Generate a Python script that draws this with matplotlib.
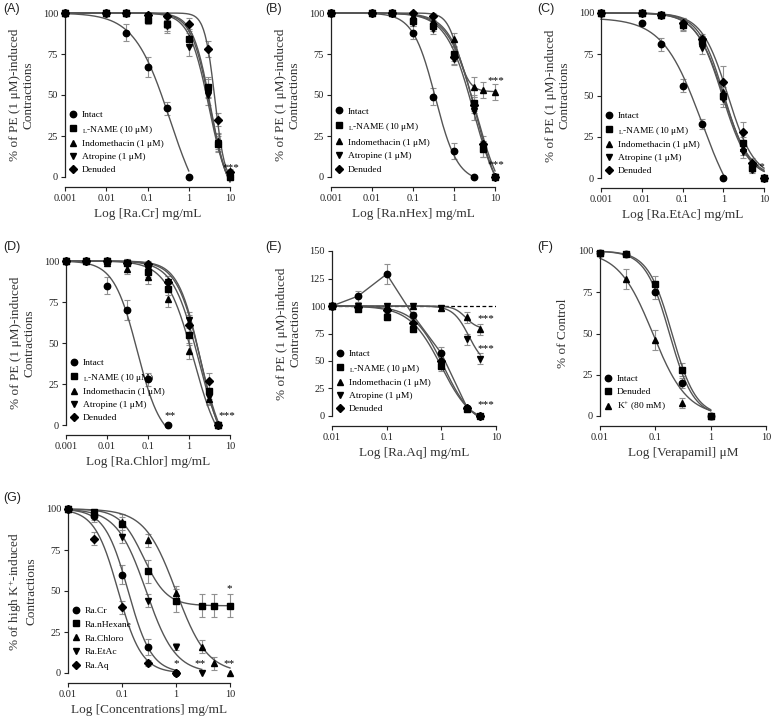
import numpy as np
import matplotlib
matplotlib.use('Agg')
import matplotlib.pyplot as plt
from matplotlib.ticker import FixedLocator, NullLocator

plt.rcParams['font.family'] = ['Liberation Serif', 'DejaVu Serif']
plt.rcParams['mathtext.fontset'] = 'custom'
plt.rcParams['mathtext.rm'] = 'Liberation Serif'
plt.rcParams['mathtext.it'] = 'Liberation Serif:italic'
plt.rcParams['mathtext.bf'] = 'Liberation Serif:bold'

# ---------------- data ----------------
# fit params are [top, bottom, IC50, hill] of the drawn curves, None = straight line
pe_labels = ['Intact', r'$_{\mathrm{L}}$-NAME (10 μM)', 'Indomethacin (1 μM)',
             'Atropine (1 μM)', 'Denuded']
pe_markers = ['o', 's', '^', 'v', 'D']

# (A) Ra.Cr
a_x = [0.001, 0.01, 0.03, 0.1, 0.3, 1, 3, 5, 10]
a_intact_x = [0.001, 0.01, 0.03, 0.1, 0.3, 1]
a_intact = [100, 100, 88, 67, 42, 0]
a_intact_err = [0, 0, 5, 6, 4, 0]
a_lname = [100, 100, 100, 96, 93, 84, 55, 20, 0]
a_lname_err = [0, 0, 0, 3, 4, 4, 6, 5, 2]
a_indo = [100, 100, 100, 98, 94, 85, 54, 22, 2]
a_indo_err = [0, 0, 0, 2, 3, 5, 6, 5, 2]
a_atro = [100, 100, 100, 98, 92, 79, 50, 21, 1]
a_atro_err = [0, 0, 0, 2, 4, 5, 6, 5, 2]
a_den = [100, 100, 100, 99, 98, 93, 78, 35, 3]
a_den_err = [0, 0, 0, 1, 2, 4, 5, 4, 2]
a_fits = [[100, -30, 0.35, 1.0], [100, -15, 3.4, 2.0], [100, -15, 3.3, 1.9],
          [100, -15, 3.1, 1.8], [100, -5, 4.3, 3.5]]

# (B) Ra.nHex
b_x = [0.001, 0.01, 0.03, 0.1, 0.3, 1, 3, 5, 10]
b_intact_x = [0.001, 0.01, 0.03, 0.1, 0.3, 1, 3]
b_intact = [100, 100, 100, 88, 49, 16, 0]
b_intact_err = [0, 0, 0, 4, 5, 5, 0]
b_lname = [100, 100, 100, 95, 92, 75, 45, 17, 0]
b_lname_err = [0, 0, 0, 2, 3, 4, 5, 5, 0]
b_indo = [100, 100, 100, 98, 95, 84, 55, 53, 52]
b_indo_err = [0, 0, 0, 2, 3, 4, 6, 5, 5]
b_atro = [100, 100, 100, 94, 90, 72, 40, 17, 0]
b_atro_err = [0, 0, 0, 2, 3, 4, 5, 5, 0]
b_den = [100, 100, 100, 100, 98, 73, 44, 20, 0]
b_den_err = [0, 0, 0, 1, 2, 4, 5, 5, 0]
b_fits = [[100, -3, 0.35, 1.6], [100, -20, 3.4, 1.3], [100, 52, 1.25, 3.0],
          [100, -20, 3.0, 1.3], [100, -20, 3.3, 1.4]]

# (C) Ra.EtAc
c_x = [0.001, 0.01, 0.03, 0.1, 0.3, 1, 3, 5, 10]
c_intact_x = [0.01, 0.03, 0.1, 0.3, 1]
c_intact = [94, 81, 56, 33, 0]
c_intact_err = [0, 4, 4, 3, 0]
c_lname = [100, 100, 99, 93, 83, 50, 21, 6, 0]
c_lname_err = [0, 0, 0, 3, 3, 5, 4, 2, 0]
c_indo = [100, 100, 99, 94, 83, 52, 18, 6, 0]
c_indo_err = [0, 0, 0, 3, 3, 5, 4, 2, 0]
c_atro = [100, 100, 99, 92, 79, 48, 16, 5, 0]
c_atro_err = [0, 0, 0, 3, 4, 5, 4, 2, 0]
c_den = [100, 100, 99, 94, 84, 58, 28, 9, 0]
c_den_err = [0, 0, 0, 3, 3, 10, 6, 3, 0]
c_fits = [[97, -30, 0.3, 0.9], [100, 0, 1.0, 1.3], [100, 0, 1.05, 1.4],
          [100, 0, 0.95, 1.35], [100, 0, 1.3, 1.35]]

# (D) Ra.Chlor
d_x = [0.001, 0.003, 0.01, 0.03, 0.1, 0.3, 1, 3, 5]
d_intact_x = [0.001, 0.003, 0.01, 0.03, 0.1, 0.3]
d_intact = [100, 100, 85, 70, 28, 0]
d_intact_err = [0, 0, 5, 6, 4, 0]
d_lname = [100, 100, 100, 99, 93, 83, 55, 21, 0]
d_lname_err = [0, 0, 0, 2, 3, 4, 6, 5, 0]
d_indo = [100, 100, 99, 95, 90, 77, 45, 16, 0]
d_indo_err = [0, 0, 0, 3, 4, 5, 5, 4, 0]
d_atro = [100, 100, 100, 99, 95, 87, 64, 17, 0]
d_atro_err = [0, 0, 0, 2, 3, 4, 5, 4, 0]
d_den = [100, 100, 100, 99, 98, 87, 61, 27, 0]
d_den_err = [0, 0, 0, 1, 2, 4, 6, 5, 0]
d_fits = [[100, -10, 0.055, 1.5], [100, -20, 1.7, 1.4], [100, -20, 1.3, 1.3],
          [100, -20, 1.9, 1.6], [100, -20, 1.9, 1.5]]

# (E) Ra.Aq
e_x = [0.01, 0.03, 0.1, 0.3, 1, 3, 5]
e_intact = [100, 109, 129, 92, 57, 7, 0]
e_intact_err = [0, 5, 9, 3, 6, 2, 0]
e_lname = [100, 97, 90, 79, 45, 6, 0]
e_lname_err = [0, 2, 3, 3, 4, 2, 0]
e_indo = [100, 100, 100, 100, 98, 90, 79]
e_indo_err = [0, 0, 0, 0, 2, 5, 5]
e_atro = [100, 100, 100, 100, 98, 70, 52]
e_atro_err = [0, 0, 0, 0, 2, 5, 5]
e_den = [100, 99, 96, 85, 50, 7, 0]
e_den_err = [0, 1, 2, 3, 5, 2, 0]
e_fits = [None, [100, -10, 1.0, 1.5], [100, 79, 2.8, 4.0],
          [100, 45, 3.2, 3.0], [100, -10, 1.1, 1.6]]

# (F) Verapamil
f_labels = ['Intact', 'Denuded', r'K$^{+}$ (80 mM)']
f_markers = ['o', 's', '^']
f_x = [0.01, 0.03, 0.1, 0.3, 1]
f_intact = [99, 98, 75, 20, 0]
f_intact_err = [0, 1, 4, 3, 0]
f_den = [99, 98, 80, 28, 0]
f_den_err = [0, 1, 5, 4, 0]
f_k = [99, 83, 46, 8, 0]
f_k_err = [0, 6, 6, 3, 0]
f_fits = [[100, 0, 0.18, 2.0], [100, 0, 0.2, 2.0], [100, 0, 0.09, 1.4]]

# (G) high K+ contractions
g_labels = ['Ra.Cr', 'Ra.nHexane', 'Ra.Chloro', 'Ra.EtAc', 'Ra.Aq']
g_x = [0.01, 0.03, 0.1, 0.3, 1, 3, 5, 10]
g_cr_x = [0.01, 0.03, 0.1, 0.3, 1]
g_cr = [100, 96, 60, 16, 0]
g_cr_err = [0, 3, 6, 5, 0]
g_hex = [100, 98, 91, 62, 44, 41, 41, 41]
g_hex_err = [0, 2, 6, 7, 7, 7, 7, 7]
g_chl = [100, 97, 92, 81, 49, 16, 6, 0]
g_chl_err = [0, 2, 3, 4, 4, 4, 4, 0]
g_eta_x = [0.01, 0.03, 0.1, 0.3, 1, 3]
g_eta = [100, 95, 83, 44, 16, 0]
g_eta_err = [0, 3, 4, 4, 2, 0]
g_aq_x = [0.01, 0.03, 0.1, 0.3, 1]
g_aq = [100, 82, 40, 6, 0]
g_aq_err = [0, 4, 4, 2, 0]
g_fits = [[100, 0, 0.13, 2.0], [100, 41, 0.25, 2.0], [100, 0, 1.0, 1.5],
          [100, 0, 0.28, 1.6], [100, 0, 0.085, 2.0]]

pe_ylabel = '% of PE (1 μM)-induced\nContractions'


def hill(x, top, bottom, ic50, h):
    return bottom + (top - bottom) / (1 + (x / ic50) ** h)


def draw_panel(ax, xs, ys, errs, fits, labels, markers, xlim, ylim, yticks,
               xticks, xticklabels, xlabel, ylabel, lspace=0.45):
    for x, y, e, fit, lab, m in zip(xs, ys, errs, fits, labels, markers):
        x = np.array(x, dtype=float)
        y = np.array(y, dtype=float)
        e = np.array(e, dtype=float)
        if fit is None:
            ax.plot(x, y, color='#555555', lw=1.0, zorder=2, clip_on=False)
        else:
            xx = np.logspace(np.log10(xlim[0]), np.log10(x.max()), 200)
            ax.plot(xx, hill(xx, *fit), color='#555555', lw=1.0, zorder=2,
                    clip_on=False)
        keep = e > 0
        ax.errorbar(x[keep], y[keep], yerr=e[keep], fmt='none', ecolor='#909090',
                    elinewidth=0.8, capsize=2.5, capthick=0.8, zorder=1,
                    clip_on=False)
        ms = 4.6 if m in ('o', 's') else (4.0 if m == 'D' else 5.0)
        ax.plot(x, y, ls='none', marker=m, ms=ms, color='black', label=lab,
                zorder=4, clip_on=False)
    ax.set_xscale('log')
    ax.set_xlim(*xlim)
    ax.set_ylim(*ylim)
    ax.xaxis.set_major_locator(FixedLocator(xticks))
    ax.xaxis.set_minor_locator(NullLocator())
    ax.set_xticklabels(xticklabels)
    ax.set_yticks(yticks)
    ax.spines['top'].set_visible(False)
    ax.spines['right'].set_visible(False)
    ax.spines['bottom'].set_position(('outward', 7.5))
    for s in ('left', 'bottom'):
        ax.spines[s].set_color('#222222')
        ax.spines[s].set_linewidth(0.9)
    ax.tick_params(direction='out', length=3, width=0.8, labelsize=7.5,
                   colors='#222222', pad=2)
    ax.set_xlabel(xlabel, fontsize=9.5, labelpad=3, color='#333333')
    ax.set_ylabel(ylabel, fontsize=9.5, labelpad=6, color='#333333',
                  linespacing=1.1)
    ax.legend(loc='lower left', bbox_to_anchor=(0.0, 0.0), frameon=False,
              fontsize=6.8, handlelength=1.0, handletextpad=0.5,
              labelspacing=lspace, borderaxespad=0.1, borderpad=0.2)


W, H = 774, 717
fig = plt.figure(figsize=(W / 100, H / 100), dpi=100)


def add_ax(left, top, right, bottom):
    return fig.add_axes([left / W, 1 - bottom / H, (right - left) / W,
                         (bottom - top) / H])


dec3 = [0.001, 0.01, 0.1, 1, 10]
dec3_lab = ['0.001', '0.01', '0.1', '1', '10']
dec2 = [0.01, 0.1, 1, 10]
dec2_lab = ['0.01', '0.1', '1', '10']
y100 = [0, 25, 50, 75, 100]

axA = add_ax(65, 13, 230, 177)
draw_panel(axA, [a_intact_x, a_x, a_x, a_x, a_x],
           [a_intact, a_lname, a_indo, a_atro, a_den],
           [a_intact_err, a_lname_err, a_indo_err, a_atro_err, a_den_err],
           a_fits, pe_labels, pe_markers, (0.001, 10), (0, 100), y100,
           dec3, dec3_lab, 'Log [Ra.Cr] mg/mL', pe_ylabel)
axA.text(10.5, 3, '***', ha='center', va='bottom', fontsize=8)

axB = add_ax(331, 13, 495, 177)
draw_panel(axB, [b_intact_x, b_x, b_x, b_x, b_x],
           [b_intact, b_lname, b_indo, b_atro, b_den],
           [b_intact_err, b_lname_err, b_indo_err, b_atro_err, b_den_err],
           b_fits, pe_labels, pe_markers, (0.001, 10), (0, 100), y100,
           dec3, dec3_lab, 'Log [Ra.nHex] mg/mL', pe_ylabel, lspace=0.55)
axB.text(10.5, 56, '***', ha='center', va='bottom', fontsize=8)
axB.text(10.5, 5, '***', ha='center', va='bottom', fontsize=8)

axC = add_ax(601, 13, 764, 178)
draw_panel(axC, [c_intact_x, c_x, c_x, c_x, c_x],
           [c_intact, c_lname, c_indo, c_atro, c_den],
           [c_intact_err, c_lname_err, c_indo_err, c_atro_err, c_den_err],
           c_fits, pe_labels, pe_markers, (0.001, 10), (0, 100), y100,
           dec3, dec3_lab, 'Log [Ra.EtAc] mg/mL', pe_ylabel)
axC.text(6.8, 4, '***', ha='center', va='bottom', fontsize=8)

axD = add_ax(66, 261, 230, 425)
draw_panel(axD, [d_intact_x, d_x, d_x, d_x, d_x],
           [d_intact, d_lname, d_indo, d_atro, d_den],
           [d_intact_err, d_lname_err, d_indo_err, d_atro_err, d_den_err],
           d_fits, pe_labels, pe_markers, (0.001, 10), (0, 100), y100,
           dec3, dec3_lab, 'Log [Ra.Chlor] mg/mL', pe_ylabel)
axD.text(0.34, 3, '**', ha='center', va='bottom', fontsize=8)
axD.text(8.3, 3, '***', ha='center', va='bottom', fontsize=8)

axE = add_ax(332, 251, 496, 416)
axE.axhline(100, color='black', lw=0.9, ls=(0, (3, 2)), zorder=1)
draw_panel(axE, [e_x] * 5, [e_intact, e_lname, e_indo, e_atro, e_den],
           [e_intact_err, e_lname_err, e_indo_err, e_atro_err, e_den_err],
           e_fits, pe_labels, pe_markers, (0.01, 10), (0, 150),
           [0, 25, 50, 75, 100, 125, 150], dec2, dec2_lab,
           'Log [Ra.Aq] mg/mL', pe_ylabel)
axE.text(6.6, 84, '***', ha='center', va='bottom', fontsize=8)
axE.text(6.6, 57, '***', ha='center', va='bottom', fontsize=8)
axE.text(6.6, 6, '***', ha='center', va='bottom', fontsize=8)

axF = add_ax(600, 251, 766, 416)
draw_panel(axF, [f_x] * 3, [f_intact, f_den, f_k],
           [f_intact_err, f_den_err, f_k_err], f_fits, f_labels, f_markers,
           (0.01, 10), (0, 100), y100, dec2, dec2_lab,
           'Log [Verapamil] μM', '% of Control')

axG = add_ax(68, 509, 230, 673)
draw_panel(axG, [g_cr_x, g_x, g_x, g_eta_x, g_aq_x],
           [g_cr, g_hex, g_chl, g_eta, g_aq],
           [g_cr_err, g_hex_err, g_chl_err, g_eta_err, g_aq_err],
           g_fits, g_labels, pe_markers, (0.01, 10), (0, 100), y100,
           dec2, dec2_lab, 'Log [Concentrations] mg/mL',
           '% of high K$^{+}$-induced\nContractions', lspace=0.55)
axG.text(1.0, 3, '*', ha='center', va='bottom', fontsize=8)
axG.text(2.8, 3, '**', ha='center', va='bottom', fontsize=8)
axG.text(9.7, 3, '**', ha='center', va='bottom', fontsize=8)
axG.text(9.7, 49, '*', ha='center', va='bottom', fontsize=8)

for lab, px, py in [('(A)', 3, 3), ('(B)', 265, 3), ('(C)', 537, 3),
                    ('(D)', 3, 241), ('(E)', 265, 241), ('(F)', 537, 241),
                    ('(G)', 3, 492)]:
    fig.text(px / W, 1 - py / H, lab, ha='left', va='top', fontsize=9,
             family=['Liberation Sans', 'DejaVu Sans'], color='#222222')

fig.savefig('out.png', dpi=100)
